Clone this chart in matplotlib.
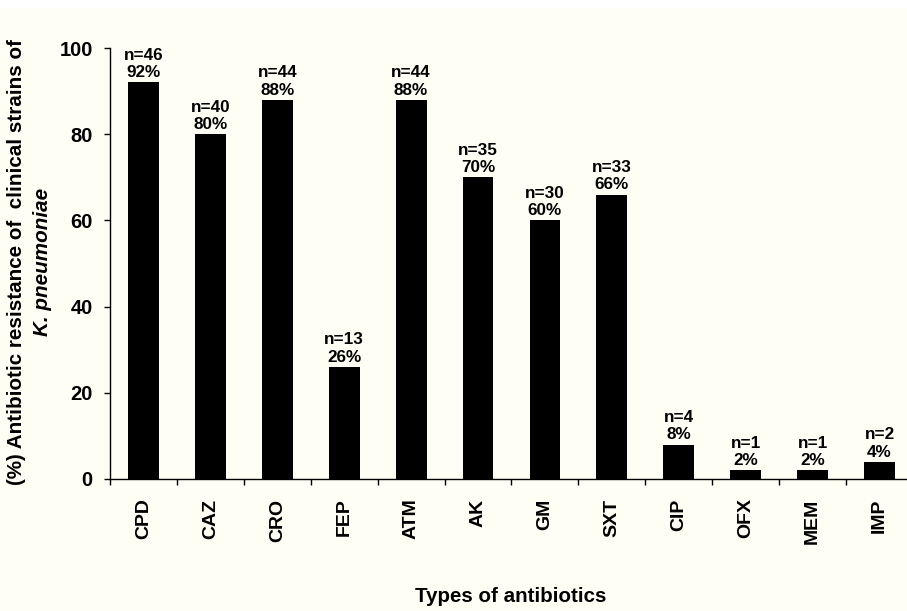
import numpy as np
import matplotlib
matplotlib.use("Agg")
import matplotlib.pyplot as plt
from matplotlib.patches import Rectangle

plt.rcParams['font.family'] = ['Liberation Sans', 'DejaVu Sans']
plt.rcParams['font.weight'] = 'bold'

antibiotics = ['CPD', 'CAZ', 'CRO', 'FEP', 'ATM', 'AK', 'GM', 'SXT', 'CIP', 'OFX', 'MEM', 'IMP']
resistance = [92, 80, 88, 26, 88, 70, 60, 66, 8, 2, 2, 4]
n_strains = [46, 40, 44, 13, 44, 35, 30, 33, 4, 1, 1, 2]
yticks = [0, 20, 40, 60, 80, 100]

bg = '#fefef5'
fig = plt.figure(figsize=(9.07, 6.11), dpi=100, facecolor=bg)
# thin white strip at the very top of the scanned figure
fig.patches.append(Rectangle((0, 1 - 8 / 611), 1, 8 / 611, transform=fig.transFigure,
                             facecolor='white', edgecolor='none', zorder=-1))

ax = fig.add_axes([110 / 907, 1 - 479 / 611, 803 / 907, 431 / 611])
ax.set_facecolor(bg)

x = np.arange(len(antibiotics))
ax.bar(x, resistance, width=0.46, color='black')

for xi, p, n in zip(x, resistance, n_strains):
    ax.annotate(f"n={n}\n{p}%", (xi, p), xytext=(0, 1.5), textcoords='offset points',
                ha='center', va='bottom', fontsize=12.3, fontweight='bold', linespacing=1.2)

ax.set_xlim(-0.5, len(antibiotics) - 0.5)
ax.set_ylim(0, 100)
ax.set_yticks(yticks)
ax.set_yticklabels([str(v) for v in yticks], fontsize=14.5, fontweight='bold')
ax.tick_params(axis='y', direction='out', length=4.5, width=1, pad=8)

ax.set_xticks(x)
ax.set_xticklabels(antibiotics, rotation=90, fontsize=14, fontweight='bold')
ax.set_xticks(np.arange(len(antibiotics) + 1) - 0.5, minor=True)
ax.tick_params(axis='x', which='major', length=0, pad=14)
ax.tick_params(axis='x', which='minor', direction='out', length=4, width=1)

ax.spines['top'].set_visible(False)
ax.spines['right'].set_visible(False)
ax.spines['left'].set_linewidth(1)
ax.spines['bottom'].set_linewidth(1)

yc = 1 - 262 / 611
fig.text(17 / 907, yc, '(%) Antibiotic resistance of  clinical strains of', rotation=90,
         ha='center', va='center', fontsize=14.9, fontweight='bold')
fig.text(43 / 907, yc, 'K. pneumoniae', rotation=90, ha='center', va='center',
         fontsize=14.9, fontweight='bold', style='italic')

fig.text(511 / 907, 1 - 597 / 611, 'Types of antibiotics', ha='center', va='center',
         fontsize=14.8, fontweight='bold')

plt.savefig('out.png', dpi=100, facecolor=bg)
